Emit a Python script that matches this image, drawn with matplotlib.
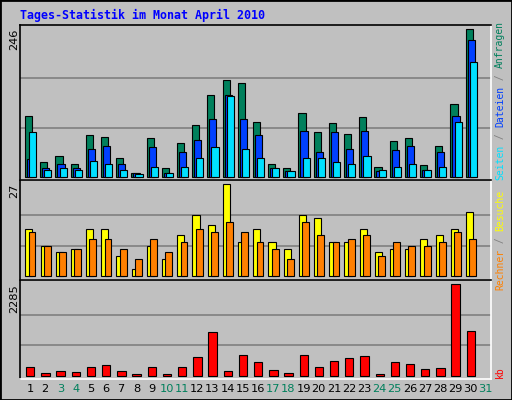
import matplotlib
matplotlib.use("Agg")
import matplotlib.pyplot as plt
from matplotlib.patches import Rectangle
import numpy as np

days = list(range(1, 32))
weekend = [3, 4, 10, 11, 17, 18, 24, 25, 31]
hits = [102, 24, 34, 21, 69, 67, 32, 7, 64, 14, 57, 87, 136, 162, 156, 92, 21, 14, 106, 74, 89, 72, 99, 16, 59, 64, 19, 51, 121, 246]
files = [29, 14, 21, 14, 46, 52, 21, 6, 49, 6, 42, 61, 96, 136, 96, 69, 14, 9, 76, 41, 74, 47, 76, 9, 44, 51, 12, 41, 101, 228]
pages = [74, 12, 14, 12, 27, 21, 11, 4, 17, 6, 17, 31, 49, 134, 47, 31, 14, 9, 31, 31, 24, 22, 34, 11, 17, 21, 12, 17, 92, 191]
visits = [14, 9, 7, 8, 14, 14, 6, 2, 9, 5, 12, 18, 15, 27, 10, 14, 10, 8, 18, 17, 10, 10, 14, 7, 8, 8, 11, 12, 14, 19]
sites = [13, 9, 7, 8, 11, 11, 8, 5, 11, 7, 10, 14, 13, 16, 13, 10, 8, 5, 16, 12, 10, 11, 12, 6, 10, 9, 9, 10, 13, 11]
kbytes = [208, 58, 108, 83, 208, 258, 108, 33, 208, 33, 208, 459, 1084, 108, 509, 334, 133, 58, 509, 208, 359, 434, 484, 33, 334, 284, 158, 183, 2285, 1109]

W, H = 512, 400
fig = plt.figure(figsize=(5.12, 4.0), dpi=100)
fig.patch.set_facecolor("#C0C0C0")
fig.patches.append(Rectangle((0, 0), 1, 1, transform=fig.transFigure, fill=False,
                             edgecolor="black", lw=2))

def mkax(top, bot, ymin, ymax):
    ax = fig.add_axes([20 / W, 1 - bot / H, 471 / W, (bot - top) / H])
    ax.set_facecolor("#C0C0C0")
    ax.set_xlim(0, 31)
    ax.set_ylim(ymin, ymax)
    ax.set_xticks([]); ax.set_yticks([])
    for s in ["left", "top"]:
        ax.spines[s].set_color("black")
    for s in ["right", "bottom"]:
        ax.spines[s].set_color("white")
    for s in ax.spines.values():
        s.set_linewidth(1.2)
    return ax

def grid(ax, top):
    for f in (1 / 3, 2 / 3):
        ax.axhline(top * f, color="#808080", lw=1.2, zorder=0)

x = np.arange(len(hits))
ax1 = mkax(25, 180, -5.5, 253)
grid(ax1, 246)
ax1.bar(x + 0.33, hits, width=0.47, align="edge", color="#00805C", edgecolor="black", lw=0.8)
ax1.bar(x + 0.46, files, width=0.47, align="edge", color="#0040FF", edgecolor="black", lw=0.8)
ax1.bar(x + 0.60, pages, width=0.47, align="edge", color="#00E0FF", edgecolor="black", lw=0.8)

ax2 = mkax(180, 280, -1.1, 28.3)
grid(ax2, 27)
ax2.bar(x + 0.35, visits, width=0.47, align="edge", color="#FFFF00", edgecolor="black", lw=0.8)
ax2.bar(x + 0.57, sites, width=0.45, align="edge", color="#FF8000", edgecolor="black", lw=0.8)

ax3 = mkax(280, 379, -83, 2393)
grid(ax3, 2285)
ax3.bar(x + 0.40, kbytes, width=0.55, align="edge", color="#FF0000", edgecolor="black", lw=0.8)

fs = 8.2
for d in days:
    xp = (20 + 471 * (d - 1 + 0.66) / 31) / W
    fig.text(xp, 1 - 389 / H, str(d), ha="center", va="center", fontsize=fs,
             color="#00805C" if d in weekend else "black")

for lab, yp in [("246", 29), ("27", 184), ("2285", 284)]:
    fig.text(14 / W, 1 - yp / H, lab, rotation=90, ha="center", va="top", fontsize=fs, color="black")

fig.text(20 / W, 1 - 15 / H, "Tages-Statistik im Monat April 2010", fontsize=8.4,
         family="DejaVu Sans Mono", weight="bold", color="#0000FF", va="center")

def rlab(parts, ystart):
    r = fig.canvas.get_renderer()
    y = ystart
    for t, c in parts:
        tx = fig.text(500 / W, 1 - y / H, t, rotation=90, ha="center", va="bottom",
                      fontsize=7.0, family="DejaVu Sans Mono", color=c)
        y -= tx.get_window_extent(r).height
rlab([("Seiten", "#00E0FF"), (" / ", "#808080"), ("Dateien", "#0040FF"),
      (" / ", "#808080"), ("Anfragen", "#00805C")], 180)
rlab([("Rechner", "#FF8000"), (" / ", "#808080"), ("Besuche", "#FFFF00")], 290)
rlab([("kb", "#FF0000")], 378)

fig.savefig("out.png", dpi=100, facecolor=fig.get_facecolor())
